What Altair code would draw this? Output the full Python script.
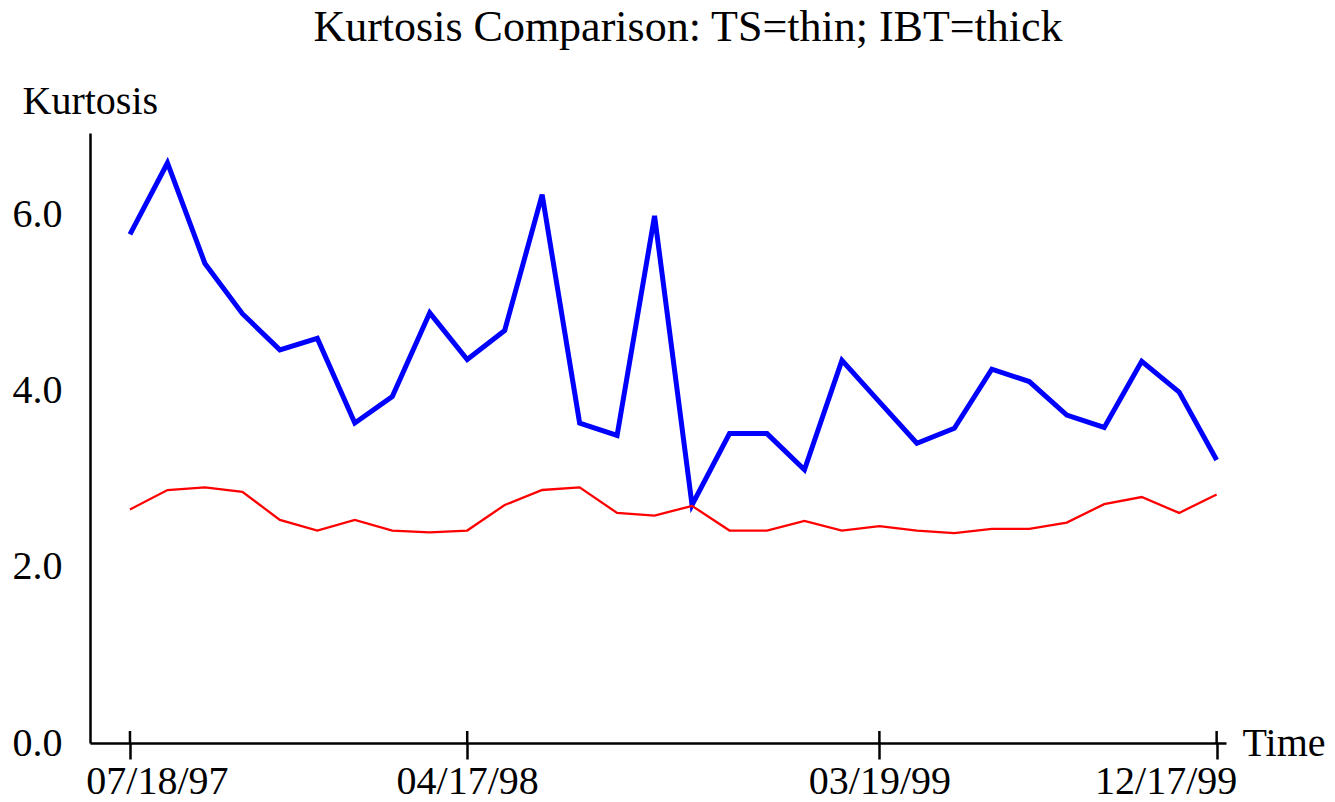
import altair as alt
import pandas as pd

# Monthly observations, index 0 = 07/18/97 ... 29 = 12/17/99
ibt = [5.77, 6.58, 5.44, 4.87, 4.46, 4.59, 3.63, 3.93, 4.88, 4.35,
       4.68, 6.22, 3.63, 3.49, 5.98, 2.70, 3.51, 3.51, 3.10, 4.34,
       3.87, 3.40, 3.57, 4.24, 4.10, 3.72, 3.58, 4.33, 3.98, 3.21]
ts = [2.65, 2.87, 2.90, 2.85, 2.53, 2.41, 2.53, 2.41, 2.39, 2.41,
      2.70, 2.87, 2.90, 2.61, 2.58, 2.69, 2.41, 2.41, 2.52, 2.41,
      2.46, 2.41, 2.38, 2.43, 2.43, 2.50, 2.71, 2.79, 2.61, 2.82]
tick_positions = [0, 9, 20, 29]
tick_labels = ["07/18/97", "04/17/98", "03/19/99", "12/17/99"]
y_ticks = [0, 2, 4, 6]

FONT = "Liberation Serif"
W, H = 1136, 610

df = pd.DataFrame({
    "t": list(range(len(ibt))) * 2,
    "v": ibt + ts,
    "series": ["IBT"] * len(ibt) + ["TS"] * len(ts),
})
ticks_df = pd.DataFrame({"t": tick_positions})

label_expr = " : ".join(
    [f"datum.value == {p} ? '{l}'" for p, l in zip(tick_positions, tick_labels)]
) + " : ''"

x_scale = alt.Scale(domain=[-1.067, 29.25], nice=False, zero=False)
y_scale = alt.Scale(domain=[0, 6.92], nice=False)

x_axis = alt.Axis(
    values=tick_positions, labelExpr=label_expr, grid=False,
    domainColor="black", domainWidth=2.5, tickColor="black", tickWidth=2.5,
    tickSize=16, labelPadding=2, labelFont=FONT, labelFontSize=40,
    labelColor="black", labelFlush=False,
    labelOffset={"condition": [
        {"test": "datum.value == 0", "value": 27},
        {"test": "datum.value == 29", "value": -51}], "value": 0},
    title="Time", titleFont=FONT, titleFontSize=40, titleFontWeight="normal",
    titleColor="black", titleX=W + 16, titleY=0, titleAlign="left",
    titleBaseline="middle", titleAnchor="start",
)
y_axis = alt.Axis(
    values=y_ticks, format=".1f", grid=False, ticks=False, tickSize=0,
    domainColor="black", domainWidth=2.5, labelPadding=28,
    labelFont=FONT, labelFontSize=40, labelColor="black",
    title="Kurtosis", titleFont=FONT, titleFontSize=40, titleFontWeight="normal",
    titleColor="black", titleAngle=0, titleX=-68, titleY=-20,
    titleAlign="left", titleBaseline="alphabetic", titleAnchor="start",
)

blue = alt.Chart(df).transform_filter("datum.series == 'IBT'").mark_line(
    color="#0000ff", strokeWidth=5, strokeJoin="miter"
).encode(
    x=alt.X("t:Q", scale=x_scale, axis=x_axis),
    y=alt.Y("v:Q", scale=y_scale, axis=y_axis),
)
red = alt.Chart(df).transform_filter("datum.series == 'TS'").mark_line(
    color="#ff0000", strokeWidth=2.3
).encode(
    x=alt.X("t:Q", scale=x_scale),
    y=alt.Y("v:Q", scale=y_scale),
)
inner_ticks = alt.Chart(ticks_df).mark_rule(color="black", strokeWidth=2.5).encode(
    x=alt.X("t:Q", scale=x_scale),
    y=alt.value(H - 12),
    y2=alt.value(H),
)

chart = alt.layer(blue, red, inner_ticks).properties(
    width=W, height=H,
    title=alt.TitleParams(
        "Kurtosis Comparison: TS=thin; IBT=thick", font=FONT, fontSize=44,
        fontWeight="normal", color="black", anchor="middle", dx=30, offset=31,
    ),
    autosize=alt.AutoSizeParams(type="none"),
    padding={"left": 82, "top": 125, "right": 100, "bottom": 60},
    background="white",
).configure_view(stroke=None, strokeWidth=0)

chart.save("out.html", embed_options={"renderer": "svg", "actions": False})
